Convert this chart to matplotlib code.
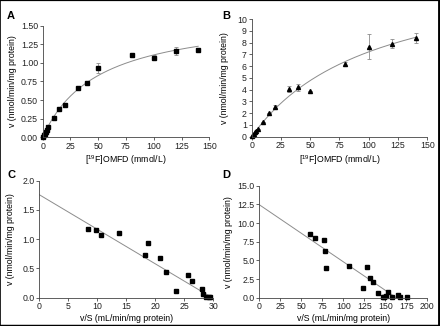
import numpy as np
import matplotlib
matplotlib.use("Agg")
import matplotlib.pyplot as plt
from matplotlib.lines import Line2D

plt.rcParams["font.family"] = ["Liberation Sans", "DejaVu Sans"]
plt.rcParams["mathtext.default"] = "regular"

# ---------------------------------------------------------------
# Data
conc_a = [0.5, 1, 2, 3, 4, 5, 10, 15, 20, 32, 40, 50, 80, 100, 120, 140]
rate_a = [0.01, 0.03, 0.05, 0.07, 0.10, 0.14, 0.26, 0.38, 0.44, 0.66, 0.73, 0.93, 1.10, 1.07, 1.16, 1.17]
err_a = [0, 0, 0, 0, 0, 0, 0, 0, 0.02, 0, 0, 0.07, 0.02, 0.03, 0.05, 0.03]
vmax_a, km_a = 1.66, 50.0

conc_b = [0.5, 1, 2, 3, 4, 5, 10, 15, 20, 32, 40, 50, 80, 100, 120, 140]
rate_b = [0.05, 0.12, 0.25, 0.35, 0.49, 0.66, 1.22, 1.99, 2.56, 4.04, 4.2, 3.89, 6.19, 7.67, 7.9, 8.41]
err_b = [0, 0, 0, 0, 0, 0, 0, 0, 0.15, 0.28, 0.3, 0, 0.15, 1.05, 0.38, 0.4]
vmax_b, km_b = 14.8, 105.0

vs_c = [8.33, 9.71, 10.69, 13.74, 18.2, 18.7, 20.8, 21.9, 23.6, 25.7, 26.4, 28.0, 28.3, 28.8, 29.2, 29.4]
v_c = [1.17, 1.16, 1.07, 1.10, 0.735, 0.94, 0.67, 0.44, 0.11, 0.39, 0.28, 0.15, 0.07, 0.02, 0.01, 0.005]
icpt_c, xicpt_c = 1.76, 29.8

vs_d = [60.7, 66.7, 77.4, 78.6, 79.0, 106.3, 128.2, 132.1, 135.7, 123.0, 141.7, 153.6,
        147.6, 148.8, 151.2, 158.3, 164.7, 167.1, 175.8]
v_d = [8.57, 7.99, 7.77, 6.29, 3.97, 4.29, 4.15, 2.68, 2.10, 1.25, 0.63, 0.80,
       0.04, 0.04, 0.18, 0.04, 0.36, 0.04, 0.09]
icpt_d, xicpt_d = 12.45, 163.0

# ---------------------------------------------------------------
fig = plt.figure(figsize=(4.4, 3.26), dpi=100)

axA = fig.add_axes([0.097, 0.579, 0.3786, 0.3423])
axB = fig.add_axes([0.572, 0.581, 0.399, 0.360])
axC = fig.add_axes([0.0893, 0.0868, 0.3955, 0.359])
axD = fig.add_axes([0.5893, 0.0868, 0.3818, 0.3436])

line_col = "#8c8c8c"
fs = 6.3


def style(ax):
    for s in ["top", "right"]:
        ax.spines[s].set_visible(False)
    for s in ["left", "bottom"]:
        ax.spines[s].set_color("#444444")
        ax.spines[s].set_linewidth(0.6)
    ax.tick_params(direction="out", length=2.2, width=0.5, pad=1.2,
                   labelsize=fs, colors="#222222")


# A
s = np.linspace(0, 140, 200)
axA.plot(s, vmax_a * s / (km_a + s), color=line_col, lw=0.7)
axA.errorbar(conc_a, rate_a, yerr=err_a, fmt="s", ms=2.9, color="black",
             ecolor=line_col, elinewidth=0.6, capsize=1.5, capthick=0.6, clip_on=False)
axA.set_xlim(0, 150)
axA.set_ylim(0, 1.5)
axA.set_xticks([0, 25, 50, 75, 100, 125, 150])
axA.set_yticks([0, 0.25, 0.5, 0.75, 1.0, 1.25, 1.5])
axA.set_yticklabels(["0.00", "0.25", "0.50", "0.75", "1.00", "1.25", "1.50"])
axA.set_xlabel("[$^{19}$F]OMFD (mmol/L)", fontsize=fs, labelpad=2)
axA.set_ylabel("v (nmol/min/mg protein)", fontsize=fs, labelpad=3)
style(axA)

# B
axB.plot(s, vmax_b * s / (km_b + s), color=line_col, lw=0.7)
axB.errorbar(conc_b, rate_b, yerr=err_b, fmt="^", ms=2.9, color="black",
             ecolor=line_col, elinewidth=0.6, capsize=1.5, capthick=0.6, clip_on=False)
axB.set_xlim(0, 150)
axB.set_ylim(0, 10)
axB.set_xticks([0, 25, 50, 75, 100, 125, 150])
axB.set_yticks(range(0, 11))
axB.set_xlabel("[$^{19}$F]OMFD (mmol/L)", fontsize=fs, labelpad=2)
axB.set_ylabel("v (nmol/min/mg protein)", fontsize=fs, labelpad=6)
style(axB)

# C
axC.plot([0, xicpt_c], [icpt_c, 0], color=line_col, lw=0.7)
axC.plot(vs_c, v_c, "s", ms=2.9, color="black", clip_on=False)
axC.set_xlim(0, 30)
axC.set_ylim(0, 2.0)
axC.set_xticks(range(0, 31, 5))
axC.set_yticks([0, 0.5, 1.0, 1.5, 2.0])
axC.set_xlabel("v/S (mL/min/mg protein)", fontsize=fs, labelpad=2)
axC.set_ylabel("v (nmol/min/mg protein)", fontsize=fs, labelpad=5)
style(axC)

# D
axD.plot([0, xicpt_d], [icpt_d, 0], color=line_col, lw=0.7)
axD.plot(vs_d, v_d, "s", ms=2.9, color="black", clip_on=False)
axD.set_xlim(0, 200)
axD.set_ylim(0, 15)
axD.set_xticks(range(0, 201, 25))
axD.set_yticks([0, 2.5, 5, 7.5, 10, 12.5, 15])
axD.set_yticklabels(["0.0", "2.5", "5.0", "7.5", "10.0", "12.5", "15.0"])
axD.set_xlabel("v/S (mL/min/mg protein)", fontsize=fs, labelpad=2)
axD.set_ylabel("v (nmol/min/mg protein)", fontsize=fs, labelpad=3)
style(axD)

# panel letters
for lab, x, y in [("A", 0.016, 0.965), ("B", 0.505, 0.965),
                  ("C", 0.016, 0.48), ("D", 0.505, 0.48)]:
    fig.text(x, y, lab, fontsize=8, fontweight="bold", ha="left", va="top")

# frame around the figure
fig.add_artist(Line2D([0, 0], [0, 1], transform=fig.transFigure, color="black", lw=1.2))
fig.add_artist(Line2D([0, 1], [1, 1], transform=fig.transFigure, color="black", lw=1.6))
fig.add_artist(Line2D([1, 1], [0, 1], transform=fig.transFigure, color="black", lw=3.5))
fig.add_artist(Line2D([0, 1], [0, 0], transform=fig.transFigure, color="black", lw=2.5))

fig.savefig("out.png", dpi=100)
